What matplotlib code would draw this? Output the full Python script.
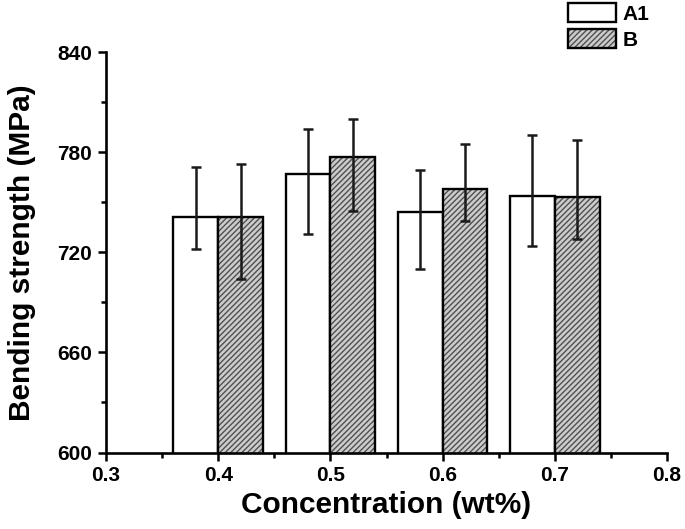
import numpy as np
import matplotlib
matplotlib.use("Agg")
import matplotlib.pyplot as plt
from matplotlib.ticker import MultipleLocator

# values
concentration = [0.4, 0.5, 0.6, 0.7]
a1_mean = [741, 767, 744, 754]
a1_low = [722, 731, 710, 724]
a1_high = [771, 794, 769, 790]
b_mean = [741, 777, 758, 753]
b_low = [704, 745, 739, 728]
b_high = [773, 800, 785, 787]

x_ticks = [0.3, 0.4, 0.5, 0.6, 0.7, 0.8]
y_ticks = [600, 660, 720, 780, 840]

plt.rcParams['font.family'] = ['Liberation Sans', 'DejaVu Sans']
plt.rcParams['font.weight'] = 'bold'

fig = plt.figure(figsize=(6.85, 5.29), dpi=100)
ax = fig.add_axes([106 / 685, 1 - 452.5 / 529, (667 - 106) / 685, (452.5 - 52) / 529])

x = np.array(concentration)
w = 0.04
a1_err = [np.array(a1_mean) - np.array(a1_low), np.array(a1_high) - np.array(a1_mean)]
b_err = [np.array(b_mean) - np.array(b_low), np.array(b_high) - np.array(b_mean)]

a1_bars = ax.bar(x - w / 2, a1_mean, width=w, color="white", edgecolor="black",
                 linewidth=1.7, zorder=2)
b_fill = ax.bar(x + w / 2, b_mean, width=w, color="#cccccc", edgecolor="#505050",
                linewidth=0, hatch="//////", zorder=2)
b_edge = ax.bar(x + w / 2, b_mean, width=w, fill=False, edgecolor="black",
                linewidth=1.7, zorder=2.1)

ax.errorbar(x - w / 2, a1_mean, yerr=a1_err, fmt="none", ecolor="#1a1a1a",
            elinewidth=1.8, capsize=3.5, capthick=1.8, zorder=3)
ax.errorbar(x + w / 2, b_mean, yerr=b_err, fmt="none", ecolor="#1a1a1a",
            elinewidth=1.8, capsize=3.5, capthick=1.8, zorder=3)

ax.set_xlim(0.3, 0.8)
ax.set_ylim(600, 840)
ax.set_xticks(x_ticks)
ax.set_xticklabels(["%.1f" % v for v in x_ticks])
ax.set_yticks(y_ticks)
ax.xaxis.set_minor_locator(MultipleLocator(0.05))
ax.yaxis.set_minor_locator(MultipleLocator(30))

for side in ["top", "right"]:
    ax.spines[side].set_visible(False)
for side in ["left", "bottom"]:
    ax.spines[side].set_linewidth(1.9)

ax.tick_params(which="major", direction="out", length=6, width=1.8, labelsize=15, pad=4)
ax.tick_params(which="minor", direction="out", length=3.5, width=1.8)

ax.set_xlabel("Concentration (wt%)", fontsize=21.5, fontweight="bold", labelpad=4)
ax.set_ylabel("Bending strength (MPa)", fontsize=21.5, fontweight="bold", labelpad=15)

fig.legend([a1_bars, (b_fill, b_edge)], ["A1", "B"], loc="upper left",
           bbox_to_anchor=(568 / 685, 1 - 3 / 529), frameon=False, fontsize=15,
           borderpad=0, borderaxespad=0, handlelength=2.3, handleheight=1.05,
           handletextpad=0.3, labelspacing=0.25)

fig.savefig("out.png", dpi=100)
